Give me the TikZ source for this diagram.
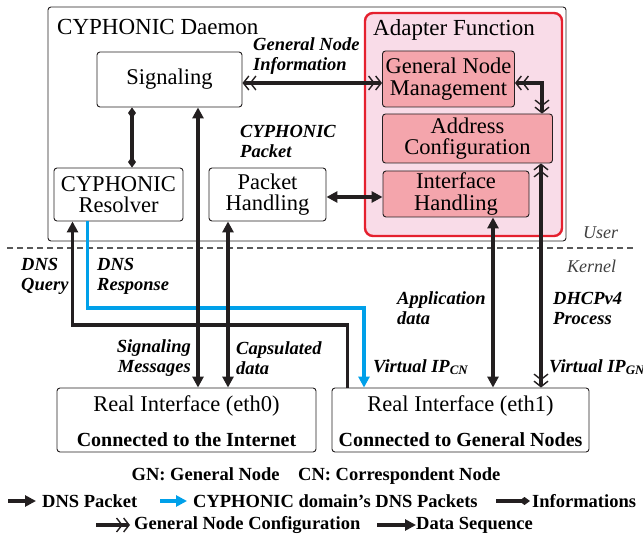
\documentclass[tikz,border=0pt]{standalone}
\usepackage{fontspec}
\setmainfont{Liberation Serif}
\usetikzlibrary{arrows.meta}

\definecolor{dnsblue}{HTML}{00A0E9}
\definecolor{adapterred}{HTML}{E5202E}
\definecolor{adapterbg}{HTML}{F9DCE8}
\definecolor{funcfill}{HTML}{F4A5AC}
\definecolor{ink}{HTML}{231F20}

\begin{document}
\begin{tikzpicture}[x=1pt,y=-1pt]
    \tikzset{
        tri/.tip={Triangle[length=11pt,width=11pt]},
        dia/.tip={Diamond[length=11pt,width=8pt]},
        dbl/.tip={Straight Barb[length=5.5pt,width=14pt,line width=1.4pt]Straight Barb[length=5.5pt,width=14pt,line width=1.4pt]},
        box/.style={draw=ink, rounded corners=3pt, line width=0.9pt, inner sep=0pt, align=center, font=\fontsize{22.5}{21.5}\selectfont},
        func/.style={box, fill=funcfill},
        title/.style={anchor=west, inner sep=0pt, font=\fontsize{23}{23}\selectfont},
        note/.style={inner sep=0pt, align=left, font=\fontsize{18.5}{20}\bfseries\itshape\selectfont},
        legend/.style={inner sep=0pt, font=\fontsize{18.5}{20}\bfseries\selectfont},
        layer/.style={inner sep=0pt, text=black!75, font=\fontsize{18}{18}\itshape\selectfont},
        flow/.style={draw=ink, line width=3.4pt},
        info/.style={flow, dia-dia},
        data/.style={flow, tri-tri},
        conf/.style={flow, dbl-dbl},
        query/.style={flow, -tri},
        reply/.style={flow, draw=dnsblue, -{tri[fill=dnsblue]}}
    }

    \useasboundingbox (0,0) rectangle (643,537);

    \node[box, minimum width=518pt, minimum height=234pt] (daemon) at (307,124) {};
    \node[title] (daemontitle) at (57,27) {CYPHONIC Daemon};
    \node[draw=adapterred, fill=adapterbg, line width=2.4pt, rounded corners=8pt,
          minimum width=197pt, minimum height=223pt] (adapter) at (463.5,124.5) {};
    \node[title] (adaptertitle) at (373,30) {Adapter Function};

    \node[box, minimum width=145pt, minimum height=55pt] (sig) at (169.5,79.5) {Signaling};
    \node[box, minimum width=129pt, minimum height=53pt] (res) at (118.5,194.5) {CYPHONIC\\Resolver};
    \node[box, minimum width=117pt, minimum height=53pt] (ph) at (267.5,194.5) {Packet\\Handling};
    \node[func, minimum width=132pt, minimum height=56pt] (gnm) at (448.5,79) {General Node\\Management};
    \node[func, minimum width=170pt, minimum height=49pt] (ac) at (467.5,138.5) {Address\\Configuration};
    \node[func, minimum width=146pt, minimum height=46pt] (ih) at (456,194) {Interface\\Handling};

    \node[box, minimum width=259pt, minimum height=64pt] (eth0) at (186.5,420) {};
    \node[box, minimum width=257pt, minimum height=64pt] (eth1) at (460.5,420) {};
    \node[box, draw=none] (eth0name) at ([yshift=14pt]eth0.center) {Real Interface (eth0)};
    \node[box, draw=none] (eth1name) at ([yshift=14pt]eth1.center) {Real Interface (eth1)};
    \node[box, draw=none, font=\fontsize{20}{20}\bfseries\selectfont] (eth0note) at ([yshift=-20pt]eth0.center) {Connected to the Internet};
    \node[box, draw=none, font=\fontsize{20}{20}\bfseries\selectfont] (eth1note) at ([yshift=-20pt]eth1.center) {Connected to General Nodes};

    \coordinate (userleft) at (7,248);
    \coordinate (userright) at (636,248);
    \draw[black!65, line width=1.2pt, dash pattern=on 6pt off 4pt] (userleft) -- (userright);
    \node[layer, anchor=west] (user) at (583,233) {User};
    \node[layer, anchor=west] (kernel) at (567,266) {Kernel};

    \draw[reply] (87.7,0 |- res.south) -- (87.7,308) -- (364,308) -- (364,0 |- eth1.north);
    \draw[query] (347.7,0 |- eth1.north) -- (347.7,325) -- (72.5,325) -- (72.5,0 |- res.south);

    \draw[info] (132,0 |- sig.south) -- (132,0 |- res.north);
    \draw[conf] (sig.east |- 0,83) -- (gnm.west |- 0,83);
    \draw[conf] (gnm.east |- 0,83) -- (542,83) -- (542,0 |- ac.north);
    \draw[data] (ph.east |- 0,197) -- (ih.west |- 0,197);
    \draw[data] (198,0 |- eth0.north) -- (198,0 |- sig.south);
    \draw[data] (228,0 |- ph.south) -- (228,0 |- eth0.north);
    \draw[data] (493,0 |- ih.south) -- (493,0 |- eth1.north);
    \draw[conf] (541,0 |- ac.south) -- (541,0 |- eth1.north);

    \node[note, anchor=west] (gninfo) at (253,56) {General Node\\Information};
    \node[note, anchor=west] (cpacket) at (240,141) {CYPHONIC\\Packet};
    \node[note, anchor=west] (dnsq) at (21,276) {DNS\\Query};
    \node[note, anchor=west] (dnsr) at (97,276) {DNS\\Response};
    \node[note, anchor=east, align=right] (sigmsg) at (191,358) {Signaling\\Messages};
    \node[note, anchor=west] (capdata) at (236,358) {Capsulated\\data};
    \node[note, anchor=west] (appdata) at (397,308) {Application\\data};
    \node[note, anchor=west] (dhcp) at (553,308) {DHCPv4\\Process};
    \node[note, anchor=west] (vipcn) at (373,367) {Virtual IP\textsubscript{CN}};
    \node[note, anchor=west] (vipgn) at (549,367) {Virtual IP\textsubscript{GN}};

    \node[legend] (abbrev) at (316,476) {GN: General Node\quad CN: Correspondent Node};
    \coordinate (k1) at (8,501);
    \coordinate (k2) at (160,501);
    \coordinate (k3) at (496,501);
    \coordinate (k4) at (96,525);
    \coordinate (k5) at (377,525);
    \node[legend, anchor=west] (l1) at (42,501) {DNS Packet};
    \node[legend, anchor=west] (l2) at (193,501) {CYPHONIC domain’s DNS Packets};
    \node[legend, anchor=west] (l3) at (532,501) {Informations};
    \node[legend, anchor=west] (l4) at (134,525) {General Node Configuration};
    \node[legend, anchor=west] (l5) at (416,525) {Data Sequence};
    \draw[query] (k1) -- ([xshift=-6pt]l1.west);
    \draw[reply] (k2) -- ([xshift=-6pt]l2.west);
    \draw[flow, -dia] (k3) -- ([xshift=-2pt]l3.west);
    \draw[flow, -dbl] (k4) -- ([xshift=-4pt]l4.west);
    \draw[flow, -tri] (k5) -- (l5.west);
\end{tikzpicture}
\end{document}
